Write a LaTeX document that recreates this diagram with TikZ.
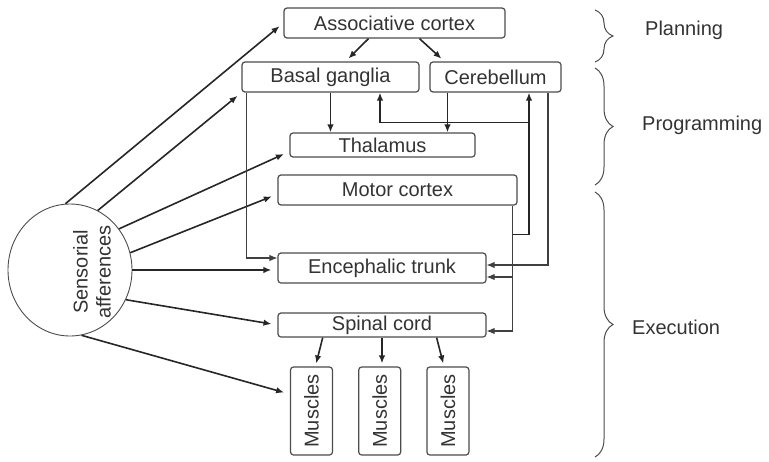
\documentclass[tikz,border=0pt]{standalone}
\usepackage{fontspec}
\setmainfont{Liberation Sans}
\usepackage{graphicx}
\usetikzlibrary{positioning, arrows.meta, shapes.geometric, decorations.pathreplacing}

\begin{document}
\begin{tikzpicture}[
        x=1pt, y=-1pt,
        node distance=25pt,
        box/.style={draw=black!70, line width=1.2pt, rounded corners=3pt,
                    inner sep=0pt, align=center, text=black!80,
                    font=\fontsize{20}{23}\selectfont},
        arrow/.style={-{Latex[length=8pt, width=6.5pt]}, line width=1.6pt, black!85},
        wire/.style={-{Latex[length=8pt, width=6.5pt]}, line width=1.1pt, black!75},
        brace/.style={decorate, decoration={brace, amplitude=18pt},
                      line width=1pt, black!70},
        tag/.style={anchor=west, inner sep=0pt, text=black!80,
                    font=\fontsize{20}{23}\selectfont},
    ]
    \useasboundingbox (0,0) rectangle (769,461);

    % levels
    \node[box, minimum width=221pt, minimum height=30pt] (asc) at (394.5,23) {Associative cortex};
    \node[box, minimum width=177pt, minimum height=30pt] (bg) at (330.5,77) {Basal ganglia};
    \node[box, minimum width=131pt, minimum height=30pt] (cb) at (495.5,77) {Cerebellum};
    \node[box, minimum width=185pt, minimum height=24pt] (th) at (382.5,145) {Thalamus};
    \node[box, minimum width=239pt, minimum height=30pt] (mc) at (397.5,190) {Motor cortex};
    \node[box, minimum width=208pt, minimum height=30pt] (et) at (382,268) {Encephalic trunk};
    \node[box, minimum width=208pt, minimum height=24pt] (sc) at (382,325) {Spinal cord};

    \node[box, minimum width=42pt, minimum height=88pt] (m1) at (311.5,411) {\rotatebox{90}{Muscles}};
    \node[box, minimum width=42pt, minimum height=88pt, right=of m1] (m2) {\rotatebox{90}{Muscles}};
    \node[box, minimum width=42pt, minimum height=88pt, right=of m2] (m3) {\rotatebox{90}{Muscles}};

    \node[ellipse, draw=black!70, line width=0.9pt, minimum width=124pt,
          minimum height=132pt, inner sep=0pt] (sa) at (70,270) {};
    \node[rotate=90, align=center, text=black!80, font=\fontsize{20}{23}\selectfont]
        (satext) at (92,272) {Sensorial\\afferences};

    % phases
    \draw[brace] (595,10) -- (595,62);
    \draw[brace] (595,68) -- (595,185);
    \draw[brace] (595,192) -- (595,457);
    \node[tag] (plan) at (645,30) {Planning};
    \node[tag] (prog) at (642,125) {Programming};
    \node[tag] (exec) at (632,327) {Execution};

    % sensorial inputs
    \draw[arrow, shorten >=5pt] (sa.94) -- (asc.west);
    \draw[arrow, shorten >=5pt] (sa.65) -- (bg.south west);
    \draw[arrow, shorten >=6pt] (sa.40) -- (th.184);
    \draw[arrow, shorten >=6pt] (sa.16) -- (mc.182);
    \draw[arrow, shorten >=6pt] (sa.east) -- ([yshift=-2pt]et.west);
    \draw[arrow, shorten >=6pt] (sa.332) -- (sc.west);
    \draw[arrow, shorten >=6pt] (sa.280) -- (m1.142);

    % planning -> programming
    \draw[arrow, shorten >=4pt] (asc.211) -- (bg.46);
    \draw[arrow, shorten >=4pt] (asc.328) -- (cb.163);
    \draw[arrow] (bg.south) -- (bg.south |- th.north);
    \draw[arrow] (cb.198) -- (cb.198 |- th.north);

    % motor cortex outputs and loops
    \coordinate (mcv) at ([xshift=-5pt]mc.south east);
    \coordinate (fbk) at ([xshift=33.5pt, yshift=-30pt]cb.south);
    \coordinate (etin) at ([yshift=-9pt]et.east);
    \draw[wire] (mcv) |- ([yshift=-6pt]sc.east);
    \draw[wire] (mcv |- etin) -- (etin);
    \draw[arrow] ([yshift=-29pt]mcv) -| ([xshift=33.5pt]cb.south);
    \draw[arrow] (fbk) -| ([xshift=49.5pt]bg.south);
    \draw[wire] ([xshift=52.5pt]cb.south) |- ([yshift=3pt]et.east);
    \draw[wire] ([xshift=5pt]bg.south west) |- ([yshift=10pt]et.west);

    % spinal cord -> muscles
    \draw[arrow, shorten >=3pt] (sc.192) -- (m1.85);
    \draw[arrow, shorten >=3pt] (sc.south) -- (sc.south |- m2.north);
    \draw[arrow, shorten >=3pt] (sc.347) -- (m3.95);
\end{tikzpicture}
\end{document}
